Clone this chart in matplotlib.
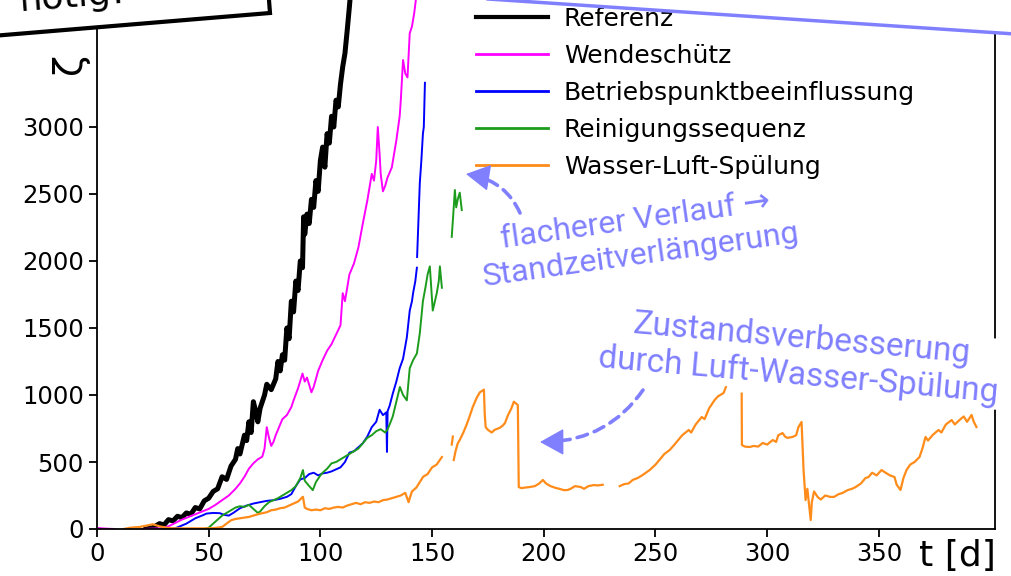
import matplotlib.pyplot as plt
import numpy as np
from matplotlib.patches import Polygon, FancyArrowPatch

nan = np.nan
W, H = 1012, 576

# Referenz
ref_t = [22, 25, 28, 30, 32, 34, 36, 38, 40, 42, 44, 46, 48, 50, 52, 54, 56, 58, 60, 62,
         63, 64, 66, 67, 68, 69, 70, 71, 72, 73, 75, 76, 78, 80, 81, 82, 83, 84, 85, 86,
         87, 88, 89, 90, 91, 92, 92.5, 93, 94, 95, 96, 97, 98, 99, 100, 101, 102, 103, 104, 105,
         106, 107, 108, 109, 110, 111, 112, 113, 114]
ref_v = [0, 10, 40, 30, 70, 60, 95, 85, 120, 110, 160, 150, 210, 230, 280, 300, 390, 370, 470, 520,
         600, 560, 700, 660, 800, 720, 950, 880, 800, 900, 1000, 1080, 1040, 1120, 1250, 1180, 1300, 1260, 1500, 1420,
         1700, 1620, 1850, 1780, 2000, 1950, 2330, 2200, 2350, 2280, 2460, 2400, 2600, 2520, 2750, 2850, 2700, 2950, 2880, 3080,
         3000, 3200, 3150, 3320, 3450, 3550, 3720, 3900, 4100]

# Wendeschütz
wen_t = [0, 2, 5, 8, nan, 20, 28, 32, 35, 38, 41, 44, 47, 50, 53, 56, 59, 62, 64, 66,
         68, 70, 72, 74, 75, 76, 77, 78, 79, 80, 82, 83, 85, 87, 88, 90, 92, 93, 94, 96,
         97, 99, 101, 103, 105, 107, 109, 110, 111, 113, 115, 117, 119, 121, 123, 124, 125, 125.7, 126.5, 127,
         128, 129, 130, 132, 134, 135.5, 136, 137, 138, 139, 140, 141, 142, 143.5]
wen_v = [8, 5, 2, 0, nan, 0, 5, 20, 45, 70, 90, 110, 130, 150, 180, 215, 250, 300, 340, 390,
         450, 490, 520, 540, 600, 760, 680, 620, 650, 700, 780, 820, 850, 910, 960, 1050, 1160, 1100, 1130, 1020,
         1060, 1180, 1260, 1330, 1380, 1450, 1520, 1760, 1700, 1900, 1980, 2100, 2280, 2450, 2650, 2600, 2750, 3000, 2800, 2650,
         2520, 2560, 2620, 2700, 2900, 3080, 3200, 3500, 3400, 3370, 3700, 3750, 3850, 4050]

# Betriebspunktbeeinflussung
bet_t = [30, 35, 40, 44, 47, 49, 52, 55, 57, 59, 61, 64, 67, 70, 73, 76, 79, 82, 85, 87,
         89, 91, 93, 95, 97, 99, 101, 103, 105, 107, 109, 111, 113, 115, 117, 119, 121, 123, 125, 126.5,
         128, 129.5, 129.8, 130.1, 131, 132.4, 134, 135.5, 137, 138.7, 140, 141, 141.5, 142.5, 143.2, nan,
         143.3, 144, 144.5, 145.2, 145.9, 146.3, 146.8]
bet_v = [0, 5, 40, 80, 100, 115, 120, 118, 105, 100, 120, 155, 175, 190, 200, 210, 215, 225, 240, 260,
         320, 370, 380, 410, 420, 400, 415, 420, 430, 445, 460, 500, 570, 580, 610, 640, 690, 760, 800, 890,
         850, 870, 575, 880, 920, 1010, 1100, 1200, 1270, 1430, 1630, 1700, 1760, 1850, 1950, nan,
         2030, 2350, 2580, 2750, 2950, 3000, 3330]

# Reinigungssequenz
rei_t = [48, 50, 52, 54, 56, 58, 60, 62, 64, 66, 68, 70, 72, 73, 75, 77, 79, 81, 83, 85,
         87, 89, 91, 92.2, 93, 95, 96.6, 98, 100, 101, 103, 105, 107, 109, 111, 113, 115, 117, 119, 121,
         123, 125, 127, 129, 130, 131, 132.4, 134, 135.6, 137, 138.7, 140, 141.5, 143.2, 144.5, 145.9, 147, 148, 149, 150.3,
         151, 152.1, 153, 153.5, 154.4, nan, 158.8, 159.5, 160.2, 160.8, 161.5, 162.4, 163.3]
rei_v = [0, 10, 40, 70, 100, 120, 140, 160, 170, 165, 180, 150, 120, 130, 170, 200, 215, 230, 250, 270,
         290, 320, 380, 440, 360, 320, 290, 350, 400, 420, 450, 490, 500, 520, 540, 560, 580, 600, 640, 680,
         700, 730, 745, 720, 740, 780, 840, 950, 1060, 1000, 960, 1200, 1260, 1310, 1460, 1700, 1800, 1900, 1960, 1630,
         1680, 1760, 1850, 1960, 1800, nan, 2180, 2350, 2530, 2400, 2460, 2510, 2380]

# Wasser-Luft-Spülung
was_t = [12, 15, 19, 22, 25, 28, 31, 34, 38, 42, 46, 50, 53, 56, 58, 60, 62, 64, 66, 68,
         70, 72, 74, 76, 78, 80, 82, 84, 86, 88, 90, 91.5, 92.2, 93, 94, 96, 98, 100, 102, 104,
         106, 108, 110, 112, 114, 116, 118, 120, 122, 124, 126, 128, 130, 132, 134, 136, 138, 139.5, 140, 141,
         143, 144.5, 146, 148, 150, 152, 154.4, nan, 158.8, 159.3, nan, 159.7, 160.5, 161.5, 162.4, 164, 165.5, 167,
         168.2, 170, 171.4, 173.2, 173.6, 174, 175, 176.7, 178, 180.3, 181.5, 182.6, 184, 185.5, 186.6, 188.4, 188.8, 190,
         192, 193.7, 196, 198, 199.6, 201, 203, 205.4, 207, 209, 210.7, 212, 214, 216.6, 218, 220, 222.4, 224,
         226.4, nan, 234, 236, 238, 239.8, 242, 244, 247.4, 250, 252, 254, 256.4, 258, 260, 262, 264.9, 266,
         268, 270.7, 272, 274, 276.5, 278, 280.5, 282, 283.5, nan, 288.6, 288.7, 290, 292.2, 294, 296, 298, 300,
         302.5, 304, 305, 306.9, 308, 309, 311.4, 313, 314, 315.4, 316.3, 317.2, 318, 319.5, 320, 321, 322.6, 324,
         326, 328.4, 330, 332, 333.8, 336, 338, 339.6, 342, 344, 345.4, 347, 349, 351.2, 353, 355, 357, 358,
         359.7, 361, 362.4, 364, 366, 368.2, 369.5, 370.9, 372, 374, 376.7, 378, 380, 382.6, 384, 386.1, 388, 389.5,
         391.5, 392.5, 393.7]
was_v = [0, 10, 15, 25, 35, 20, 10, 5, 5, 5, 5, 5, 8, 15, 40, 65, 75, 80, 85, 90,
         100, 110, 118, 125, 140, 145, 155, 160, 175, 190, 205, 230, 240, 160, 150, 140, 145, 140, 155, 150,
         160, 165, 160, 175, 185, 195, 185, 200, 195, 205, 200, 215, 220, 230, 240, 250, 270, 200, 230, 280,
         310, 350, 390, 410, 460, 480, 537, nan, 630, 690, nan, 515, 580, 640, 665, 720, 780, 850,
         910, 980, 1020, 1040, 850, 760, 740, 720, 740, 755, 770, 790, 850, 900, 950, 925, 313, 305,
         310, 313, 320, 340, 366, 340, 320, 306, 300, 290, 291, 300, 320, 313, 300, 320, 328, 325,
         330, nan, 320, 335, 340, 366, 380, 400, 440, 480, 520, 560, 590, 620, 660, 700, 739, 720,
         780, 836, 820, 900, 963, 990, 1015, 1080, 1150, nan, 1010, 627, 615, 612, 620, 615, 642, 630,
         664, 650, 700, 716, 690, 680, 687, 700, 760, 799, 440, 216, 300, 67, 200, 280, 239, 220,
         250, 239, 240, 260, 269, 290, 300, 313, 340, 380, 388, 420, 400, 440, 420, 400, 388, 330,
         291, 380, 440, 480, 500, 537, 600, 687, 660, 700, 739, 720, 780, 813, 780, 813, 840, 800,
         851, 800, 761]

labels = ["Referenz", "Wendeschütz", "Betriebspunktbeeinflussung", "Reinigungssequenz", "Wasser-Luft-Spülung"]
x_ticks = [0, 50, 100, 150, 200, 250, 300, 350]
y_ticks = [0, 500, 1000, 1500, 2000, 2500, 3000]

note_blue = "#8080ff"


def fpos(x, y):
    # image pixel (from top left) -> figure fraction
    return x / W, 1 - y / H


def dashed_arrow(fig, tail, head, rad):
    # dashed curved shaft + solid head along the end tangent
    x1, y1 = tail[0], H - tail[1]
    x2, y2 = head[0], H - head[1]
    dx, dy = x2 - x1, y2 - y1
    cx, cy = (x1 + x2) / 2 + rad * dy, (y1 + y2) / 2 - rad * dx
    ux, uy = x2 - cx, y2 - cy
    n = np.hypot(ux, uy)
    ux, uy = ux / n, uy / n
    fig.add_artist(FancyArrowPatch(fpos(*tail), fpos(x2 - 8 * ux, H - (y2 - 8 * uy)),
                                   transform=fig.transFigure, arrowstyle="-",
                                   connectionstyle=f"arc3,rad={rad}",
                                   linestyle=(0, (3, 2)), lw=2.6, color=note_blue,
                                   shrinkA=0, shrinkB=0, zorder=6))
    fig.add_artist(FancyArrowPatch(fpos(x2 - 12 * ux, H - (y2 - 12 * uy)), fpos(*head),
                                   transform=fig.transFigure,
                                   arrowstyle="-|>,head_length=0.9,head_width=0.5",
                                   mutation_scale=17, lw=1, color=note_blue,
                                   shrinkA=0, shrinkB=0, zorder=6))


fig = plt.figure(figsize=(W / 100, H / 100), dpi=100)
ax = fig.add_axes([97 / W, 47 / H, 898 / W, 536 / H])

ax.plot(ref_t, ref_v, color="black", lw=3.6, label=labels[0])
ax.plot(wen_t, wen_v, color="#ff00ff", lw=1.4, label=labels[1])
ax.plot(bet_t, bet_v, color="#0000ff", lw=1.4, label=labels[2])
ax.plot(rei_t, rei_v, color="#1c9c1c", lw=1.4, label=labels[3])
ax.plot(was_t, was_v, color="#ff8c1a", lw=1.6, label=labels[4])

ax.set_xlim(0, 402)
ax.set_ylim(0, 4000)
ax.set_xticks(x_ticks)
ax.set_yticks(y_ticks)
ax.tick_params(labelsize=17.5, length=6, width=1.3)
for s in ax.spines.values():
    s.set_linewidth(1.3)

leg = ax.legend(loc="upper left", bbox_to_anchor=fpos(476, 7), bbox_transform=fig.transFigure,
                frameon=False, fontsize=18, handlelength=2.9, handletextpad=0.62,
                labelspacing=0.52, borderpad=0, borderaxespad=0)
leg.get_lines()[0].set_linewidth(3)
for ln in leg.get_lines()[1:]:
    ln.set_linewidth(2)

fig.text(*fpos(996, 566), "t [d]", fontsize=26, ha="right", va="baseline")
fig.text(*fpos(70, 63), "ζ", fontsize=28, rotation=90, ha="center", va="center")

# overlay boxes from the slide
fig.add_artist(Polygon([fpos(-20, 37), fpos(270, 13), fpos(262, -90), fpos(-30, -70)],
                       closed=True, transform=fig.transFigure, facecolor="white",
                       edgecolor="black", lw=3, zorder=5))
fig.text(*fpos(20, 11), "nötig!", fontsize=26, rotation=4.7, rotation_mode="anchor",
         ha="left", va="baseline", zorder=6)
fig.add_artist(Polygon([fpos(488, -1), fpos(1030, 35), fpos(1030, -100), fpos(488, -100)],
                       closed=True, transform=fig.transFigure, facecolor="white",
                       edgecolor=note_blue, lw=2.5, zorder=5))

fig.text(*fpos(638, 238), "flacherer Verlauf →\nStandzeitverlängerung", fontsize=23,
         family=["Roboto", "DejaVu Sans"], color=note_blue, rotation=8, rotation_mode="anchor",
         ha="center", va="center", multialignment="center", linespacing=1.3,
         bbox=dict(facecolor="white", edgecolor="none", pad=1), zorder=6)
fig.text(*fpos(800, 357), "Zustandsverbesserung\ndurch Luft-Wasser-Spülung", fontsize=24,
         family=["Roboto", "DejaVu Sans"], color=note_blue, rotation=-5, rotation_mode="anchor",
         ha="center", va="center", multialignment="center", linespacing=1.15,
         bbox=dict(facecolor="white", edgecolor="none", pad=1), zorder=6)

dashed_arrow(fig, (520, 213), (466, 174), 0.25)
dashed_arrow(fig, (643, 390), (540, 442), -0.25)

fig.savefig("out.png", dpi=100)
